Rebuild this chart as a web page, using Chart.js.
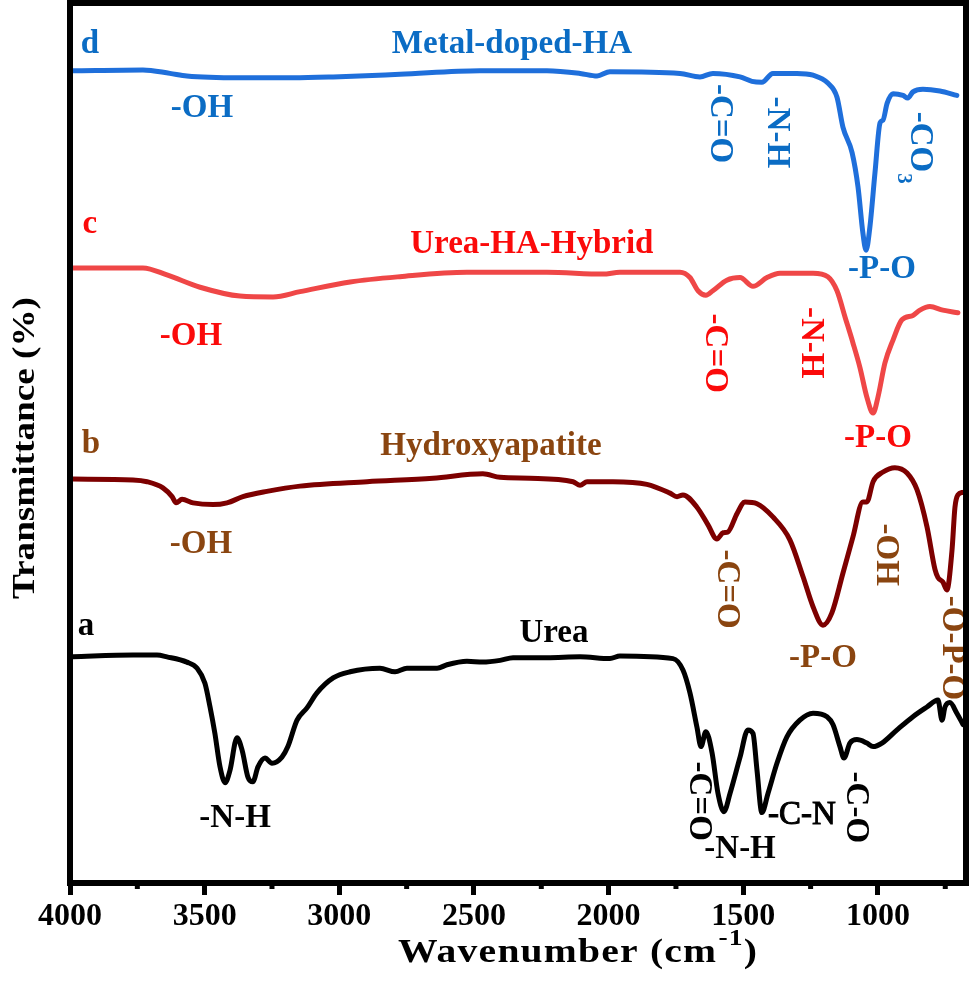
<!DOCTYPE html>
<html lang="en">
<head>
  <meta charset="UTF-8" />
  <title>FTIR spectra</title>
  <style>
    body { margin: 0; background: #fff; }
    #chart { display: block; }
  </style>
</head>
<body>
  <canvas id="chart" width="976" height="985"></canvas>

  <script src="https://cdn.jsdelivr.net/npm/chart.js"></script>
  <script>
    // wavenumber (cm-1) and stacked transmittance (a.u.)
    const ureaWn = [3989, 3766, 3677, 3640, 3566, 3528, 3499, 3480, 3462, 3443, 3424, 3406, 3380, 3361, 3339, 3321, 3302, 3276, 3250, 3213, 3191, 3157, 3120, 3083, 3023, 2960, 2849, 2793, 2749, 2637, 2600, 2526, 2467, 2403, 2355, 2229, 2106, 1995, 1958, 1761, 1724, 1698, 1672, 1657, 1639, 1616, 1594, 1572, 1549, 1512, 1483, 1464, 1449, 1431, 1408, 1375, 1338, 1290, 1241, 1189, 1167, 1141, 1126, 1104, 1078, 1041, 1018, 985, 929, 870, 818, 777, 762, 751, 733, 707, 684];
    const ureaT = [25.7, 25.9, 25.9, 25.7, 25.1, 24.4, 22.7, 20.0, 17.0, 13.2, 11.4, 12.8, 16.5, 15.1, 12.0, 11.5, 13.2, 14.2, 13.6, 14.3, 15.5, 18.5, 19.9, 21.6, 23.3, 24.0, 24.4, 24.0, 24.4, 24.4, 24.8, 25.2, 25.1, 25.3, 25.6, 25.6, 25.7, 25.5, 25.8, 25.5, 24.2, 21.6, 17.7, 15.5, 17.2, 14.8, 10.2, 8.1, 10.2, 14.3, 17.4, 17.0, 12.8, 8.0, 10.2, 13.6, 16.6, 18.5, 19.3, 18.9, 18.0, 15.5, 14.2, 15.9, 16.3, 15.9, 15.5, 15.9, 17.4, 18.9, 20.0, 20.8, 18.5, 20.0, 20.5, 19.3, 18.0];

    const haWn = [3989, 3766, 3714, 3655, 3621, 3606, 3584, 3543, 3469, 3417, 3358, 3269, 3146, 2897, 2652, 2467, 2403, 2292, 2132, 2106, 2080, 1984, 1858, 1772, 1746, 1724, 1672, 1631, 1598, 1575, 1557, 1523, 1494, 1449, 1390, 1327, 1278, 1241, 1204, 1171, 1130, 1093, 1056, 1041, 1018, 981, 937, 892, 855, 818, 788, 777, 759, 744, 725, 714, 703, 684];
    const haT = [45.9, 45.8, 45.6, 44.9, 43.9, 43.2, 43.6, 43.2, 43.0, 43.2, 43.9, 44.5, 45.1, 45.6, 46.0, 46.5, 46.1, 46.0, 45.6, 45.2, 45.6, 45.6, 45.3, 44.3, 43.9, 44.1, 42.7, 40.7, 39.1, 39.8, 39.9, 42.0, 43.3, 43.1, 41.6, 39.0, 34.8, 31.4, 29.3, 30.7, 35.2, 39.3, 43.3, 43.3, 45.6, 46.7, 47.2, 46.6, 44.7, 40.5, 35.6, 34.7, 34.2, 33.3, 37.8, 42.7, 44.1, 44.4];

    const hybridWn = [3993, 3729, 3640, 3517, 3369, 3246, 3146, 2960, 2775, 2526, 2229, 2021, 1958, 1735, 1698, 1668, 1639, 1613, 1561, 1512, 1464, 1412, 1364, 1241, 1186, 1152, 1122, 1093, 1067, 1041, 1018, 1000, 974, 944, 911, 870, 844, 807, 759, 703];
    const hybridT = [69.9, 69.9, 69.1, 67.7, 66.7, 66.6, 67.2, 68.3, 68.9, 69.4, 69.4, 69.2, 69.4, 69.4, 68.8, 67.3, 66.8, 67.3, 68.5, 68.8, 67.8, 68.8, 69.3, 69.3, 68.9, 67.3, 64.3, 61.4, 58.6, 55.2, 53.4, 55.2, 59.1, 61.7, 64.0, 64.5, 65.1, 65.5, 65.1, 64.8];

    const metalWn = [3993, 3729, 3629, 3566, 3369, 3172, 3023, 2775, 2478, 2229, 2106, 2043, 1995, 1735, 1661, 1613, 1512, 1468, 1431, 1390, 1301, 1241, 1186, 1152, 1130, 1096, 1074, 1056, 1044, 1030, 1011, 992, 981, 966, 944, 907, 889, 870, 833, 770, 707];
    const metalT = [92.3, 92.4, 92.0, 91.7, 91.5, 91.5, 91.6, 91.9, 92.3, 92.3, 92.0, 91.7, 92.2, 92.0, 91.6, 92.0, 91.6, 91.1, 91.0, 92.0, 92.0, 91.8, 90.9, 89.3, 85.9, 83.0, 79.1, 73.9, 71.9, 74.5, 80.7, 86.4, 86.7, 88.6, 89.7, 89.5, 89.2, 89.9, 90.2, 90.0, 89.5];

    const majorTicks = [4000, 3500, 3000, 2500, 2000, 1500, 1000];
    const minorTicks = [3750, 3250, 2750, 2250, 1750, 1250, 750];

    const BLUE = '#0b6cc4', RED = '#fb0a0a', BROWN = '#8a4510', BLACK = '#000';

    // peak labels: text, wavenumber, transmittance, colour, rotated?
    const peakLabels = [
      ['d', 3926, 94.3, BLUE, false], ['Metal-doped-HA', 2359, 94.3, BLUE, false],
      ['-OH', 3510, 87.0, BLUE, false], ['-C=O', 1587, 86.3, BLUE, true],
      ['-N-H', 1375, 85.3, BLUE, true], ['-P-O', 985, 68.75, BLUE, false],
      ['c', 3926, 73.9, RED, false], ['Urea-HA-Hybrid', 2285, 71.6, RED, false],
      ['-OH', 3551, 61.1, RED, false], ['-C=O', 1605, 60.2, RED, true],
      ['-N-H', 1249, 61.4, RED, true], ['-P-O', 1000, 49.5, RED, false],
      ['b', 3922, 48.9, BROWN, false], ['Hydroxyapatite', 2437, 48.6, BROWN, false],
      ['-OH', 3514, 37.5, BROWN, false], ['-C=O', 1564, 33.4, BROWN, true],
      ['-P-O', 1204, 24.5, BROWN, false], ['-OH', 970, 37.3, BROWN, true],
      ['-O-P-O', 725, 26.7, BROWN, true],
      ['a', 3941, 28.2, BLACK, false], ['Urea', 2203, 27.4, BLACK, false],
      ['-N-H', 3387, 6.4, BLACK, false], ['-C=O', 1668, 9.3, BLACK, true],
      ['-N-H', 1512, 2.8, BLACK, false], ['-C-N', 1282, 6.7, BLACK, false],
      ['-C-O', 1085, 8.6, BLACK, true]
    ];

    const FONT = "'Liberation Serif', 'Times New Roman', serif";

    function series(wn, t) {
      return wn.map((w, i) => ({ x: w, y: t[i] }));
    }

    function line(wn, t, color) {
      return {
        data: series(wn, t),
        borderColor: color,
        borderWidth: 5,
        pointRadius: 0,
        cubicInterpolationMode: 'monotone',
        borderJoinStyle: 'round',
        borderCapStyle: 'round',
        fill: false
      };
    }

    const extras = {
      id: 'extras',
      afterDatasetsDraw(chart) {
        const ctx = chart.ctx, x = chart.scales.x, y = chart.scales.y;
        ctx.save();
        peakLabels.forEach(([txt, w, t, col, rot]) => {
          const px = x.getPixelForValue(w), py = y.getPixelForValue(t);
          const thin = txt === '-C-N';
          ctx.fillStyle = col;
          ctx.strokeStyle = col;
          ctx.lineWidth = 1;
          ctx.font = (thin ? '' : 'bold ') + '33px ' + FONT;
          ctx.textAlign = 'center';
          if (rot) {
            ctx.save();
            ctx.translate(px, py);
            ctx.rotate(Math.PI / 2);
            ctx.textBaseline = 'middle';
            ctx.fillText(txt, 0, 0);
            ctx.restore();
          } else {
            ctx.textBaseline = 'alphabetic';
            ctx.fillText(txt, px, py);
            if (thin) ctx.strokeText(txt, px, py);
          }
        });
        // -CO3 with subscript
        ctx.save();
        ctx.translate(x.getPixelForValue(844), y.getPixelForValue(84.2));
        ctx.rotate(Math.PI / 2);
        ctx.fillStyle = BLUE;
        ctx.font = 'bold 33px ' + FONT;
        ctx.textBaseline = 'middle';
        ctx.textAlign = 'center';
        ctx.fillText('-CO', 0, 0);
        const w1 = ctx.measureText('-CO').width;
        ctx.font = 'bold 21px ' + FONT;
        ctx.textAlign = 'left';
        ctx.fillText('3', w1 / 2 + 1, 17);
        ctx.restore();
        ctx.restore();
      },
      afterDraw(chart) {
        const ctx = chart.ctx, a = chart.chartArea, x = chart.scales.x;
        ctx.save();
        // minor ticks
        ctx.strokeStyle = '#000';
        ctx.lineWidth = 5;
        minorTicks.forEach(v => {
          const px = x.getPixelForValue(v);
          ctx.beginPath();
          ctx.moveTo(px, a.bottom);
          ctx.lineTo(px, a.bottom + 6);
          ctx.stroke();
        });
        // frame
        ctx.lineWidth = 6;
        ctx.strokeRect(a.left, a.top, a.right - a.left, a.bottom - a.top);

        // x title
        ctx.fillStyle = '#000';
        ctx.textBaseline = 'alphabetic';
        ctx.textAlign = 'left';
        ctx.save();
        ctx.translate(398, 962);
        ctx.scale(1.2, 1);
        ctx.letterSpacing = '1px';
        ctx.font = 'bold 33px ' + FONT;
        const main = 'Wavenumber (cm';
        ctx.fillText(main, 0, 0);
        let cx = ctx.measureText(main).width;
        ctx.font = 'bold 23px ' + FONT;
        ctx.fillText('-1', cx + 1, -17);
        cx += ctx.measureText('-1').width + 1;
        ctx.font = 'bold 33px ' + FONT;
        ctx.fillText(')', cx, 0);
        ctx.restore();

        // y title
        ctx.save();
        ctx.translate(34, 448);
        ctx.rotate(-Math.PI / 2);
        ctx.scale(1.2, 1);
        ctx.textAlign = 'center';
        ctx.font = 'bold 31px ' + FONT;
        ctx.fillText('Transmittance (%)', 0, 0);
        ctx.restore();
        ctx.restore();
      }
    };

    new Chart(document.getElementById('chart').getContext('2d'), {
      type: 'line',
      data: {
        datasets: [
          line(metalWn, metalT, '#1f6fdb'),
          line(hybridWn, hybridT, '#ef4747'),
          line(haWn, haT, '#7d0000'),
          line(ureaWn, ureaT, '#000')
        ]
      },
      options: {
        responsive: false,
        animation: false,
        layout: { padding: { left: 70, right: 10, top: 3, bottom: 0 } },
        plugins: { legend: { display: false }, tooltip: { enabled: false } },
        scales: {
          x: {
            type: 'linear',
            reverse: true,
            min: 673,
            max: 4000,
            afterFit: s => { s.height = 102; },
            afterBuildTicks: s => { s.ticks = majorTicks.map(v => ({ value: v })); },
            border: { display: false },
            grid: { drawOnChartArea: false, drawTicks: true, tickLength: 12, tickWidth: 5, tickColor: '#000' },
            ticks: {
              autoSkip: false,
              maxRotation: 0,
              padding: 3,
              color: '#000',
              font: { family: FONT, size: 32, weight: 'bold' },
              callback: v => String(v)
            }
          },
          y: { display: false, min: 0, max: 100 }
        }
      },
      plugins: [extras]
    });
  </script>
</body>
</html>
